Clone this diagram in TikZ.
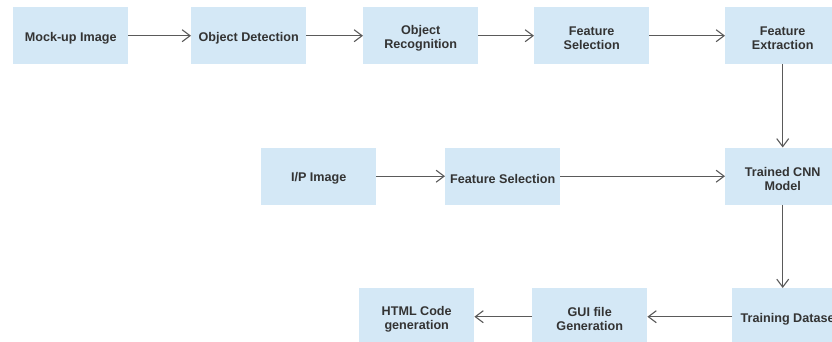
\documentclass[tikz,border=0pt]{standalone}
\usepackage{fontspec}
\setmainfont{Liberation Sans}
\usetikzlibrary{arrows.meta}
\definecolor{boxfill}{HTML}{D4E8F6}
\definecolor{boxtext}{HTML}{333333}
\definecolor{arrowgray}{HTML}{5A5A5A}
\begin{document}
\begin{tikzpicture}[x=1pt,y=-1pt,
  procbox/.style={fill=boxfill, draw=none, anchor=north west, minimum width=115pt, minimum height=57pt,
    inner sep=0pt},
  boxtitle/.style={yshift=-2.5pt, inner sep=0pt, align=center, text=boxtext,
    font=\fontsize{12.6pt}{14pt}\selectfont\bfseries},
  flow/.style={draw=arrowgray, line width=1.25pt, -{Straight Barb[length=8pt,width=12pt,line width=1.1pt]}}]
\useasboundingbox (0,0) rectangle (832,341);
\clip (0,0) rectangle (832,341);
% row 1
\node[procbox, label={[boxtitle]center:Mock-up Image}] (mock) at (13,7) {};
\node[procbox, label={[boxtitle]center:Object Detection}] (od) at (191,7) {};
\node[procbox, label={[boxtitle]center:{Object\\Recognition}}] (or) at (363,7) {};
\node[procbox, label={[boxtitle]center:{Feature\\Selection}}] (fs1) at (534,7) {};
\node[procbox, label={[boxtitle]center:{Feature\\Extraction}}] (fe) at (725,7) {};
% row 2
\node[procbox, label={[boxtitle]center:I/P Image}] (ip) at (261,147.5) {};
\node[procbox, label={[boxtitle]center:Feature Selection}] (fs2) at (445,147.5) {};
\node[procbox, label={[boxtitle]center:{Trained CNN\\Model}}] (cnn) at (725,147.5) {};
% row 3
\node[procbox, label={[boxtitle]center:{HTML Code\\generation}}] (html) at (359,288) {};
\node[procbox, label={[boxtitle]center:{GUI file\\Generation}}] (gui) at (532,288) {};
\node[procbox, label={[boxtitle]center:Training Dataset}] (td) at (732,288) {};
% connectors
\draw[flow] (mock) -- (od);
\draw[flow] (od) -- (or);
\draw[flow] (or) -- (fs1);
\draw[flow] (fs1) -- (fe);
\draw[flow] (fe) -- (cnn);
\draw[flow] (ip) -- (fs2);
\draw[flow] (fs2) -- (cnn);
\draw[flow] (cnn.south) -- (cnn.south |- td.north);
\draw[flow] (td) -- (gui);
\draw[flow] (gui) -- (html);
\end{tikzpicture}
\end{document}
